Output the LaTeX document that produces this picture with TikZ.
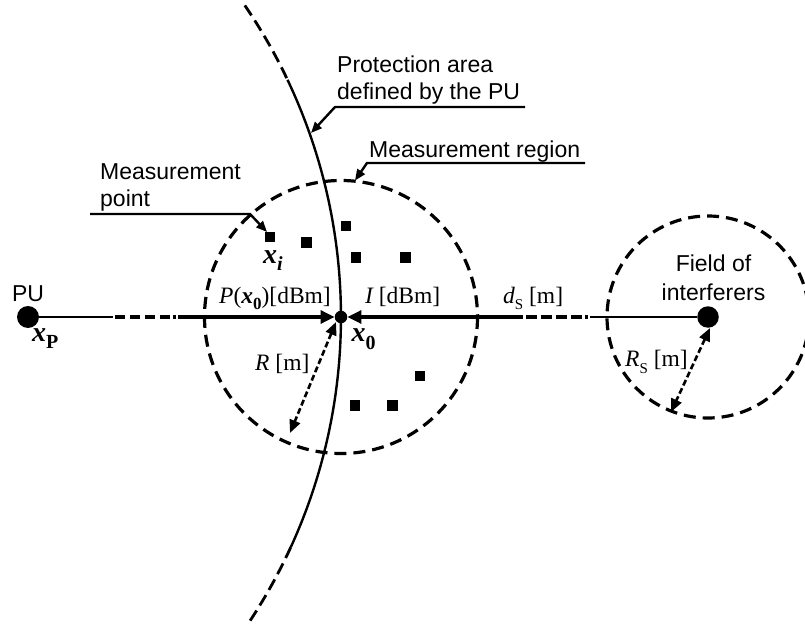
\documentclass[tikz,border=0pt]{standalone}
\usepackage{fontspec}
\setmainfont{Liberation Serif}
\newfontfamily\labelsans{Liberation Sans}
\usetikzlibrary{arrows.meta}
% lowered index for the position labels
\newcommand\lowidx[2][15bp]{\raisebox{-0.28em}{\fontsize{#1}{#1}\selectfont #2}}
\begin{document}
\begin{tikzpicture}[x=1bp,y=-1bp,
  sanslabel/.style={font=\labelsans\fontsize{23bp}{27bp}\selectfont, inner sep=0pt},
  seriflabel/.style={font=\fontsize{23.5bp}{27bp}\selectfont, inner sep=0pt},
  poslabel/.style={font=\fontsize{28bp}{32bp}\selectfont\bfseries\itshape, inner sep=0pt},
  bigdot/.style={circle, fill=black, inner sep=0pt, minimum size=#1},
  mpt/.style={rectangle, fill=black, inner sep=0pt, minimum size=10.5bp},
  thinline/.style={line width=2bp},
  thickline/.style={line width=3.2bp},
  mainarrow/.style={thickline, -{Triangle[length=14bp,width=13bp]}},
  leader/.style={line width=2.4bp, -{Triangle[length=11bp,width=9bp]}},
  regionline/.style={line width=3.2bp, dash pattern=on 12bp off 7bp},
  radiusarrow/.style={line width=2.6bp, dash pattern=on 6bp off 3bp,
    {Triangle[length=13bp,width=11bp]}-{Triangle[length=13bp,width=11bp]}},
  arcsolid/.style={line width=2.4bp},
  arcdashed/.style={line width=2.8bp, dash pattern=on 12bp off 6bp},
]
\useasboundingbox (0,0) rectangle (805,625);

% ---- transmitter, reference point and interferer field
\node[bigdot=22bp] (pu) at (28,317) {};
\node[bigdot=12.5bp] (x0) at (341,317) {};
\node[bigdot=21.5bp] (intf) at (708,317) {};

% ---- measurement region and field of interferers
\draw[regionline] (x0.center) circle (136.5);
\draw[regionline] (intf.center) circle (101);

% ---- boundary of the protection area (arc centred far to the left)
\coordinate (pc) at (-212,317);
\draw[arcdashed] (pc) ++(-34.3:553) arc[start angle=-34.3, end angle=-25.4, radius=553];
\draw[arcsolid]  (pc) ++(-25.4:553) arc[start angle=-25.4, end angle=24.6, radius=553];
\draw[arcdashed] (pc) ++(24.6:553) arc[start angle=24.6, end angle=33.8, radius=553];

% ---- axis from the PU to the field of interferers
\coordinate (la) at (113,317);
\coordinate (lb) at (115,317);
\coordinate (lc) at (170,317);
\coordinate (ld) at (173,317);
\coordinate (le) at (175.5,317);
\coordinate (lf) at (178,317);
\coordinate (ra) at (523,317);
\coordinate (rb) at (526,317);
\coordinate (rc) at (582,317);
\coordinate (rd) at (585,317);
\coordinate (re) at (587.5,317);
\coordinate (rf) at (590,317);

\draw[thinline] (pu.east) -- (la);
\draw[thickline, dash pattern=on 10bp off 5bp] (lb) -- (lc);
\draw[thickline] (ld) -- (le);
\draw[mainarrow] (lf) -- (x0.west);

\draw[mainarrow] (ra) -- (x0.east);
\draw[thickline, dash pattern=on 11bp off 4bp] (rb) -- (rc);
\draw[thickline] (rd) -- (re);
\draw[thinline] (rf) -- (intf.west);

% ---- radii
\coordinate (rin) at (336,322);
\coordinate (rout) at (290,433);
\draw[radiusarrow] (rin) -- (rout);
\coordinate (rsin) at (710,328);
\coordinate (rsout) at (671,412);
\draw[radiusarrow] (rsin) -- (rsout);

% ---- measurement points
\node[mpt] (m1) at (270,237) {};
\node[mpt] (m2) at (306.5,242.5) {};
\node[mpt] (m3) at (346,226) {};
\node[mpt] (m4) at (356,257.5) {};
\node[mpt] (m5) at (405.5,257.5) {};
\node[mpt] (m6) at (420,376) {};
\node[mpt] (m7) at (355,405.5) {};
\node[mpt] (m8) at (392.5,405.5) {};

% ---- callouts
\node[sanslabel, anchor=base west] (protA) at (337,72.7) {Protection area};
\node[sanslabel, anchor=base west] (protB) at (337,99.3) {defined by the PU};
\coordinate (pu1) at (525,107);
\coordinate (pu2) at (335,107);
\coordinate (pu3) at (311,133);
\draw[leader] (pu1) -- (pu2) -- (pu3);

\node[sanslabel, anchor=base west] (mreg) at (369,157.7) {Measurement region};
\coordinate (mr1) at (585,163);
\coordinate (mr2) at (367,163);
\coordinate (mr3) at (355,180.5);
\draw[leader] (mr1) -- (mr2) -- (mr3);

\node[sanslabel, anchor=base west] (mptA) at (100,179.3) {Measurement};
\node[sanslabel, anchor=base west] (mptB) at (100,206.7) {point};
\coordinate (mp1) at (90,214);
\coordinate (mp2) at (250,214);
\coordinate (mp3) at (267,232);
\draw[leader] (mp1) -- (mp2) -- (mp3);

\node[sanslabel, anchor=base] (fldA) at (713.5,271.7) {Field of};
\node[sanslabel, anchor=base] (fldB) at (713.5,300.2) {interferers};
\node[sanslabel, anchor=base] (pulbl) at (28,301.7) {PU};

% ---- quantities
\node[seriflabel, anchor=base west] (plbl) at (219,303.3)
  {\itshape P\upshape({\bfseries\itshape x}\lowidx[17bp]{\bfseries 0})[dBm]};
\node[seriflabel, anchor=base west] (ilbl) at (365,303.3) {\itshape I\upshape{} [dBm]};
\node[seriflabel, anchor=base west] (dlbl) at (503,303.3) {\itshape d\upshape\lowidx{S} [m]};
\node[seriflabel, anchor=base west] (rlbl) at (255,370) {\itshape R\upshape{} [m]};
\node[seriflabel, anchor=base west] (rslbl) at (625,366.7) {\itshape R\upshape\lowidx{S} [m]};

\node[poslabel, anchor=base west] (x0lbl) at (351.5,341.7) {x\lowidx[20bp]{\upshape 0}};
\node[poslabel, anchor=base west] (xilbl) at (263,263) {x\lowidx[20bp]{i}};
\node[poslabel, anchor=base west] (xplbl) at (32,341) {x\lowidx[20bp]{\upshape P}};
\end{tikzpicture}
\end{document}
